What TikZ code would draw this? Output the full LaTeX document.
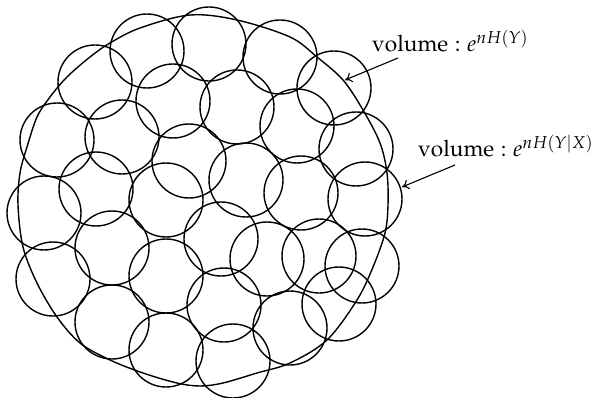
\documentclass[tikz,border=0pt]{standalone}
\usepackage{mathpazo}
\usetikzlibrary{arrows.meta}
\begin{document}
\begin{tikzpicture}[x=1pt,y=-1pt,
  ball/.style={draw,circle,line width=1.4pt,minimum size=74pt,inner sep=0pt},
  lbl/.style={anchor=base west,inner sep=0pt,font=\fontsize{22.6}{27}\selectfont},
  pointer/.style={line width=1.1pt,-{To[length=7pt,width=10pt]}}]
\useasboundingbox (0,0) rectangle (599,398);
\draw[line width=1.4pt] plot[smooth cycle,tension=0.55] coordinates {
 (190,15) (237,20) (290,37) (317,57) (343,80) (363,110) (380,143) (387,173)
 (388,205) (385,233) (373,267) (357,300) (327,340) (290,363) (257,373) (223,383)
 (200,386) (177,383) (143,373) (110,360) (80,343) (57,317) (37,283) (23,247)
 (18,205) (20,173) (27,147) (37,117) (50,97) (67,77) (90,57) (110,43) (140,28)};
\foreach \i/\p in {1/{(147,51)},2/{(209,44)},3/{(280,57)},4/{(95,82)},5/{(173,101)},
  6/{(237,107)},7/{(297,126)},8/{(334,88)},9/{(356,149)},10/{(57,140)},
  11/{(122,137)},12/{(189,161)},13/{(246,180)},14/{(301,193)},15/{(365,199)},
  16/{(96,189)},17/{(44,213)},18/{(166,200)},19/{(221,239)},20/{(267,259)},
  21/{(319,256)},22/{(362,266)},23/{(112,248)},24/{(53,279)},25/{(166,276)},
  26/{(224,305)},27/{(339,304)},28/{(112,322)},29/{(166,350)},30/{(233,361)},
  31/{(290,328)}}
  \node[ball] (c\i) at \p {};
\node[lbl] (l1) at (372,52) {$\mathrm{volume}: e^{nH(Y)}$};
\node[lbl] (l2) at (418,157) {$\mathrm{volume}: e^{nH(Y|X)}$};
\coordinate (a1s) at (398,58);
\coordinate (a1e) at (345,80);
\coordinate (a2s) at (455,165);
\coordinate (a2e) at (402,187);
\draw[pointer] (a1s) -- (a1e);
\draw[pointer] (a2s) -- (a2e);
\end{tikzpicture}
\end{document}
